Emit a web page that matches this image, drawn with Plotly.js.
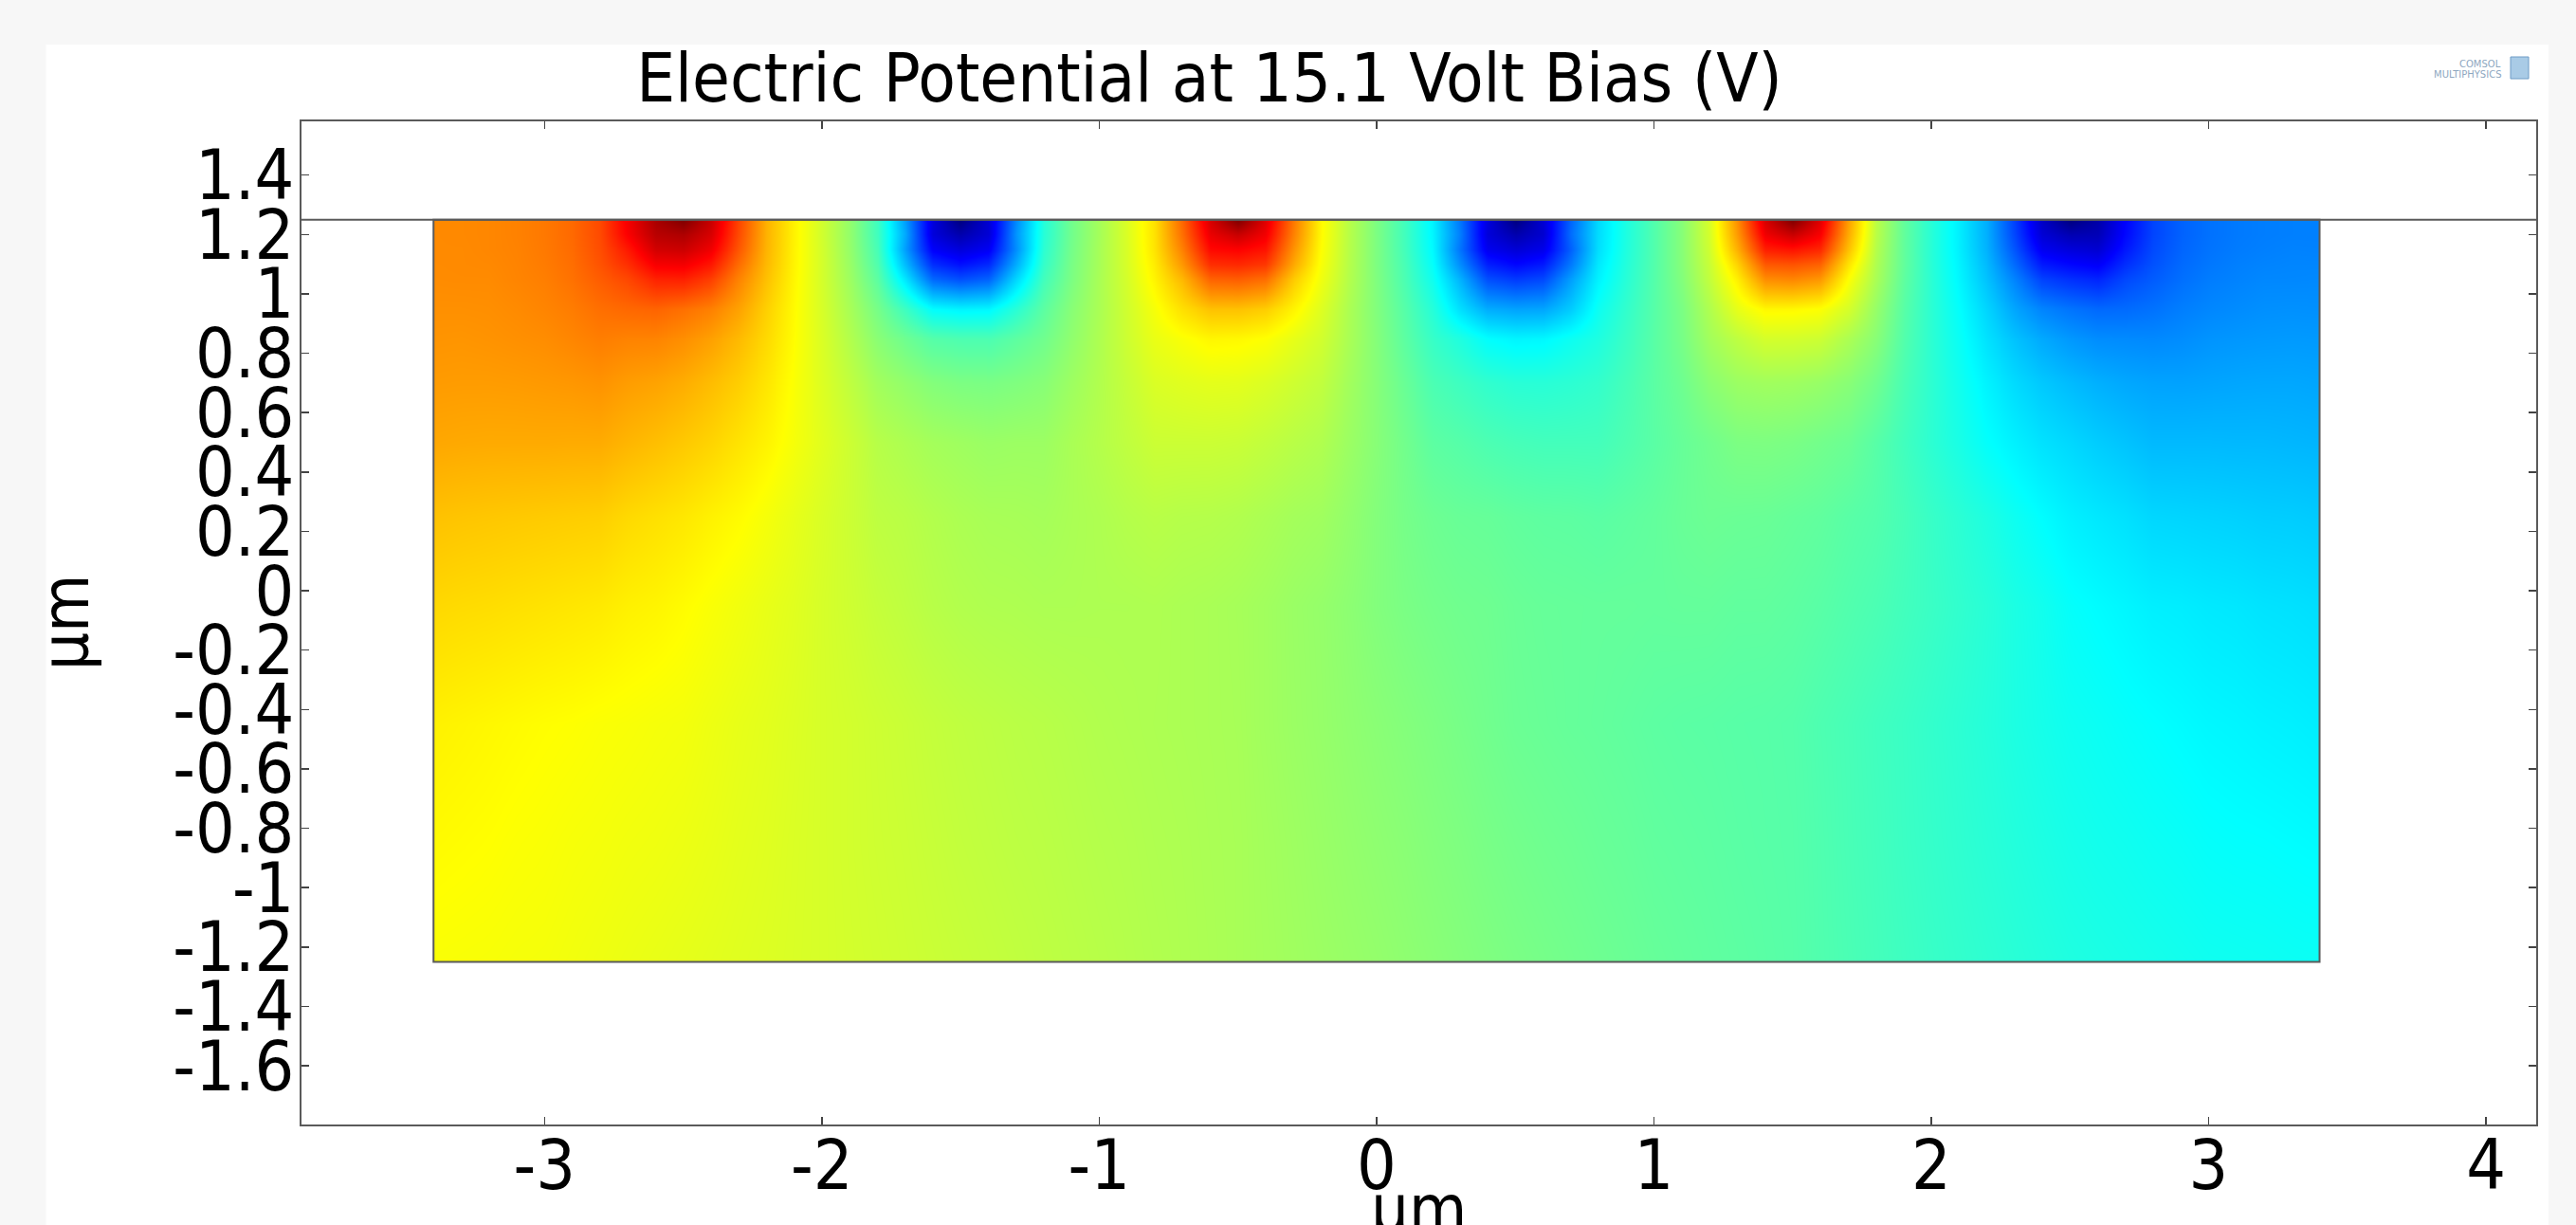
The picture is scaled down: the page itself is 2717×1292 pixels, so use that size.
<!DOCTYPE html>
<html>
<head>
<meta charset="utf-8">
<script src="https://cdn.plot.ly/plotly-3.0.1.min.js"></script>
<style>
  html, body { margin: 0; padding: 0; background: #f7f7f7; }
  #chart { width: 2717px; height: 1292px; }
</style>
</head>
<body>
<div id="chart"></div>
<script>
// ---------------- data ----------------
// x positions of the sampled columns (µm)
const xGrid = [
  -3.4,-3.3,-3.2,-3.1,-3.0,-2.9,-2.8,-2.7,-2.6,-2.5,
  -2.4,-2.3,-2.2,-2.1,-2.0,-1.9,-1.8,-1.7,-1.6,-1.5,
  -1.4,-1.3,-1.2,-1.1,-1.0,-0.9,-0.8,-0.7,-0.6,-0.5,
  -0.4,-0.3,-0.2,-0.1,0,0.1,0.2,0.3,0.4,0.5,
  0.6,0.7,0.8,0.9,1.0,1.1,1.2,1.3,1.4,1.5,
  1.6,1.7,1.8,1.9,2.0,2.1,2.2,2.3,2.4,2.5,
  2.6,2.7,2.8,2.9,3.0,3.1,3.2,3.3,3.4
];
// y positions of the sampled rows (µm), top to bottom
const yRows = [1.25, 1.2, 1.15, 1.1, 1.05, 0.95, 0.85, 0.7, 0.5, 0.25, -0.05, -0.45, -0.85, -1.25];

// estimated potential, in % of the colour range (0 = darkest blue, 100 = darkest red), rows top to bottom
const potentialRows = [
  [74.0,74.1,74.3,74.8,75.7,77.2,80.3,88.4,95.9,100, 92.9,80.9,70.0,63.6,58.0,52.1,43.6,28.0,9.3,0, 8.4,26.0,41.1,48.6,53.8,59.0,65.4,77.3,91.5,100, 90.6,75.5,62.9,55.5,49.7,43.9,36.6,24.2,9.4,0, 8.4,22.4,34.0,40.5,45.6,50.7,58.5,73.7,91.5,100, 90.6,71.8,55.9,47.3,41.4,35.9,29.5,18.8,7.0,0, 4.0,12.6,19.1,22.1,23.6,24.4,24.8,25.0,25.0],
  [74.0,74.1,74.3,74.8,75.7,77.2,80.2,87.8,94.4,95.5, 91.4,80.3,69.9,63.6,58.0,52.1,43.7,29.1,9.0,4.5, 8.5,27.1,41.2,48.6,53.8,59.0,65.3,76.5,89.6,93.0, 88.7,74.7,62.8,55.5,49.7,43.9,36.8,25.0,9.0,4.5, 8.0,23.2,34.2,40.5,45.6,50.7,58.3,72.6,89.0,93.0, 88.1,70.7,55.7,47.3,41.4,35.9,29.6,19.4,8.4,5.0, 5.4,13.2,19.2,22.1,23.6,24.4,24.8,25.0,25.0],
  [74.0,74.0,74.3,74.7,75.6,77.0,79.9,85.1,91.9,92.5, 88.9,79.1,69.7,63.5,58.2,52.3,44.4,28.0,12.0,9.0, 11.5,26.5,41.8,48.9,54.0,58.8,65.1,74.8,86.8,87.5, 85.6,73.0,62.4,55.4,49.8,44.1,37.2,24.0,11.0,8.5, 10.5,22.0,34.5,40.7,45.6,50.7,57.8,70.4,84.6,85.8, 83.7,68.6,55.2,47.2,41.4,36.0,29.9,20.8,11.1,9.0, 8.1,14.7,19.7,22.4,23.8,24.6,25.0,25.3,25.2],
  [73.9,74.0,74.1,74.6,75.4,76.7,79.3,82.9,88.2,88.5, 85.3,76.9,69.2,63.4,58.3,52.7,45.3,31.0,17.0,14.0, 16.5,29.5,42.7,49.3,54.0,58.7,64.3,72.5,83.0,83.5, 82.0,70.8,61.8,55.3,49.8,44.6,38.0,26.5,15.5,13.0, 15.0,24.5,35.5,41.1,45.7,50.6,57.1,66.9,78.8,79.3, 77.8,65.1,54.6,47.2,41.5,36.4,30.7,23.0,14.9,13.0, 11.9,17.0,20.5,22.9,24.2,25.0,25.4,25.6,25.6],
  [73.8,73.9,73.9,74.5,75.1,76.4,78.4,80.5,84.3,84.5, 81.5,74.7,68.5,63.2,58.3,53.1,46.5,35.0,22.5,20.0, 22.0,33.5,44.0,49.6,54.2,58.4,63.6,69.5,78.0,78.5, 76.8,67.6,61.0,55.1,50.0,44.9,39.0,30.0,20.0,18.0, 19.5,28.0,36.4,41.5,45.8,50.3,56.5,64.2,73.8,74.5, 72.8,62.4,54.1,46.9,41.7,36.7,31.5,25.4,18.8,17.0, 15.9,19.5,21.5,23.4,24.7,25.3,25.8,25.8,25.9],
  [73.4,73.4,73.5,73.9,74.5,75.3,76.6,77.3,77.7,76.5, 74.9,71.6,67.0,62.8,58.6,54.1,49.1,43.5,37.5,36.5, 36.8,41.5,46.6,50.8,54.3,57.9,61.7,65.5,68.5,68.5, 67.3,63.5,59.2,54.4,50.2,45.9,41.2,34.5,29.5,28.5, 28.8,32.5,38.7,42.5,46.0,49.5,54.7,60.2,63.2,63.1, 62.3,58.4,52.2,46.2,41.8,37.6,33.4,28.8,25.5,23.9, 22.8,23.0,23.7,24.9,25.7,26.2,26.6,26.7,26.6],
  [73.0,72.9,73.1,73.4,73.7,74.4,75.2,74.7,74.6,73.5, 71.8,69.3,66.1,62.6,58.9,55.1,51.0,48.3,45.8,45.0, 44.9,46.6,48.5,51.6,54.6,57.6,60.5,62.0,63.4,63.2, 62.4,60.2,58.0,54.2,50.5,46.6,42.9,40.5,37.5,36.5, 36.8,38.6,40.4,43.3,46.2,49.2,53.4,56.2,58.4,58.3, 57.6,54.4,50.9,45.7,41.9,38.3,34.7,31.6,29.1,27.4, 26.3,26.1,25.9,26.3,27.0,27.3,27.5,27.6,27.5],
  [72.3,72.2,72.2,72.3,72.5,72.7,73.1,72.1,71.5,70.5, 69.0,67.3,64.9,62.1,59.2,56.4,53.4,51.9,50.4,49.7, 49.5,50.0,50.8,52.9,54.9,56.9,58.9,59.5,59.9,59.8, 59.0,57.7,56.4,53.5,50.7,47.8,44.9,43.6,42.3,41.5, 41.4,41.8,42.5,44.4,46.4,48.3,51.1,52.8,53.3,53.1, 52.4,50.9,48.5,44.8,42.0,39.1,36.4,34.0,32.2,30.9, 29.8,29.0,28.5,28.4,28.6,28.8,28.9,28.9,28.7],
  [71.1,70.9,70.8,70.8,70.8,70.7,70.7,69.7,68.8,67.8, 66.7,65.2,63.6,61.6,59.6,57.6,55.4,54.5,53.6,53.1, 52.6,52.8,52.8,54.1,55.2,56.3,57.4,57.4,57.4,57.2, 56.5,55.6,54.8,52.8,50.8,48.7,46.6,45.9,45.0,44.4, 44.1,44.1,44.1,45.2,46.3,47.5,48.6,49.7,49.8,49.5, 48.8,48.0,46.1,43.9,41.9,39.9,37.8,36.2,34.7,33.7, 32.6,31.7,30.7,30.7,30.7,30.6,30.6,30.4,30.2],
  [68.5,68.2,68.0,67.8,67.6,67.4,67.2,66.2,65.5,64.8, 63.8,62.9,61.6,60.2,58.8,57.5,56.1,55.7,55.0,54.4, 54.0,53.9,53.7,54.2,54.6,55.2,55.6,55.3,55.2,54.9, 54.3,53.6,53.2,51.9,50.4,49.1,48.2,47.7,47.5,47.0, 46.7,46.6,46.3,46.7,47.1,47.7,48.1,47.9,47.8,47.4, 47.0,46.2,45.6,44.4,43.0,41.7,40.4,38.8,37.4,36.1, 35.3,34.6,33.6,33.4,33.2,33.0,32.7,32.6,32.3],
  [66.3,66.0,65.8,65.5,65.2,64.9,64.6,63.9,63.5,62.8, 62.0,61.2,60.3,59.5,58.5,57.7,56.8,56.2,55.5,55.0, 54.7,54.6,54.4,54.4,54.5,54.5,54.6,54.3,54.1,53.8, 53.3,52.6,52.1,51.3,50.3,49.5,48.9,48.5,48.3,47.8, 47.5,47.4,47.3,47.3,47.2,47.3,47.3,47.0,47.0,46.7, 46.2,45.5,44.9,44.0,43.2,42.3,41.4,40.2,39.2,37.9, 37.3,36.7,36.0,35.8,35.4,35.2,34.8,34.6,34.3],
  [63.8,63.5,63.2,62.9,62.6,62.4,62.1,61.9,61.6,61.4, 60.8,60.2,59.7,59.1,58.5,58.1,57.6,57.2,56.7,56.3, 56.0,55.7,55.5,55.2,54.9,54.7,54.5,54.3,54.1,53.9, 53.3,52.7,52.2,51.6,51.0,50.4,49.8,49.2,48.6,48.0, 47.7,47.4,47.2,46.9,46.6,46.4,46.3,46.1,46.0,45.8, 45.1,44.5,43.8,43.2,42.5,41.8,41.1,40.3,39.6,38.9, 38.5,38.0,37.6,37.2,36.8,36.6,36.3,36.1,35.8],
  [62.9,62.7,62.5,62.2,62.0,61.7,61.5,61.2,61.0,60.7, 60.3,59.8,59.4,58.9,58.5,58.1,57.7,57.4,57.0,56.6, 56.3,56.0,55.8,55.5,55.2,55.0,54.7,54.5,54.2,54.0, 53.5,53.0,52.5,52.0,51.5,51.0,50.4,49.9,49.3,48.8, 48.4,48.1,47.7,47.4,47.0,46.8,46.6,46.3,46.1,45.9, 45.3,44.6,44.0,43.3,42.7,42.1,41.5,40.9,40.3,39.7, 39.3,39.0,38.6,38.3,37.9,37.7,37.6,37.4,37.2],
  [62.0,61.9,61.8,61.6,61.5,61.2,60.9,60.6,60.3,60.0, 59.7,59.4,59.1,58.8,58.5,58.2,57.9,57.6,57.3,57.0, 56.7,56.4,56.1,55.8,55.5,55.2,54.9,54.6,54.3,54.0, 53.6,53.2,52.8,52.4,52.0,51.5,51.0,50.5,50.0,49.5, 49.1,48.7,48.3,47.9,47.5,47.2,46.9,46.6,46.3,46.0, 45.4,44.8,44.2,43.6,43.0,42.5,42.0,41.5,41.0,40.5, 40.2,39.9,39.6,39.3,39.0,38.9,38.8,38.6,38.5]
];

// domain of the semiconductor block (µm)
const blockX = [-3.4, 3.4];
const blockY = [-1.25, 1.25];

// tick labels
const xTickVals = [-3, -2, -1, 0, 1, 2, 3, 4];
const xTickText = ['-3', '-2', '-1', '0', '1', '2', '3', '4'];
const yTickVals = [-1.6, -1.4, -1.2, -1, -0.8, -0.6, -0.4, -0.2, 0, 0.2, 0.4, 0.6, 0.8, 1, 1.2, 1.4];
const yTickText = ['-1.6', '-1.4', '-1.2', '-1', '-0.8', '-0.6', '-0.4', '-0.2', '0', '0.2', '0.4', '0.6', '0.8', '1', '1.2', '1.4'];

const titleText = 'Electric Potential at 15.1 Volt Bias (V)';
const axisUnit = 'µm';

// ---------------- drawing ----------------
const FONT = '"DejaVu Sans Condensed", "DejaVu Sans", sans-serif';
const jet = [
  [0, '#00007F'], [0.125, '#0000FF'], [0.375, '#00FFFF'],
  [0.625, '#FFFF00'], [0.875, '#FF0000'], [1, '#7F0000']
];

const yAsc = yRows.slice().reverse();
const zAsc = potentialRows.slice().reverse();

const trace = {
  type: 'heatmap',
  x: xGrid,
  y: yAsc,
  z: zAsc,
  zmin: 0,
  zmax: 100,
  zsmooth: 'best',
  colorscale: jet,
  showscale: false,
  hoverinfo: 'skip'
};

// plot-area geometry in pixels (for paper-referenced decorations)
const L = 317.5, R = 2675, T = 128, B = 1186;
const px = v => (v - L) / (R - L);
const py = v => (B - v) / (B - T);

const edge = '#5a5a5a';
const shapes = [
  // white drawing panel
  { type: 'rect', xref: 'paper', yref: 'paper', layer: 'below',
    x0: px(48), x1: px(2688), y0: py(1300), y1: py(47),
    fillcolor: '#ffffff', line: { width: 0 } },
  // masks for the half-cell margins of the heatmap bricks
  { type: 'rect', xref: 'x', yref: 'y', x0: -3.6, x1: 3.6, y0: blockY[1], y1: 1.35, fillcolor: '#ffffff', line: { width: 0 } },
  { type: 'rect', xref: 'x', yref: 'y', x0: -3.6, x1: 3.6, y0: -1.6, y1: blockY[0], fillcolor: '#ffffff', line: { width: 0 } },
  { type: 'rect', xref: 'x', yref: 'y', x0: -3.6, x1: blockX[0], y0: -1.6, y1: 1.35, fillcolor: '#ffffff', line: { width: 0 } },
  { type: 'rect', xref: 'x', yref: 'y', x0: blockX[1], x1: 3.6, y0: -1.6, y1: 1.35, fillcolor: '#ffffff', line: { width: 0 } },
  // block outline
  { type: 'rect', xref: 'x', yref: 'y', x0: blockX[0], x1: blockX[1], y0: blockY[0], y1: blockY[1],
    line: { color: edge, width: 2 }, fillcolor: 'rgba(0,0,0,0)' },
  // surface line spanning the whole view
  { type: 'line', xref: 'paper', yref: 'y', x0: 0, x1: 1, y0: blockY[1], y1: blockY[1],
    line: { color: edge, width: 2 } },
  // logo cube
  { type: 'rect', xref: 'paper', yref: 'paper', x0: px(2648), x1: px(2667), y0: py(83), y1: py(60),
    fillcolor: '#a9cbe6', line: { color: '#6f9cc6', width: 1 } }
];

const annotations = [
  { text: axisUnit, xref: 'paper', yref: 'paper', x: 0.5, y: py(1232), xanchor: 'center', yanchor: 'top',
    showarrow: false, font: { family: FONT, size: 70, color: '#000' } },
  { text: axisUnit, xref: 'paper', yref: 'paper', x: px(68.5), y: 0.5, xanchor: 'center', yanchor: 'middle',
    textangle: -90, showarrow: false, font: { family: FONT, size: 70, color: '#000' } },
  { text: 'COMSOL', xref: 'paper', yref: 'paper', x: px(2640), y: py(68), xanchor: 'right', yanchor: 'middle',
    showarrow: false, font: { family: 'DejaVu Sans', size: 10, color: '#8ea7bf' } },
  { text: 'MULTIPHYSICS', xref: 'paper', yref: 'paper', x: px(2640), y: py(79), xanchor: 'right', yanchor: 'middle',
    showarrow: false, font: { family: 'DejaVu Sans', size: 10, color: '#8ea7bf' } }
];

const axisCommon = {
  showgrid: false, zeroline: false, showline: true, linecolor: edge, linewidth: 2,
  mirror: 'ticks', ticks: 'inside', ticklen: 8, tickwidth: 1.5, tickcolor: '#444',
  tickmode: 'array', tickfont: { family: FONT, size: 73, color: '#000' }, automargin: false
};

const layout = {
  width: 2717, height: 1292,
  paper_bgcolor: '#f7f7f7', plot_bgcolor: '#ffffff',
  margin: { l: L, r: 2717 - R, t: T, b: 1292 - B, pad: 0 },
  title: { text: titleText, font: { family: FONT, size: 72, color: '#000' },
           xref: 'container', yref: 'container', x: 1275.5 / 2717, xanchor: 'center',
           y: 1 - 81.8 / 1292, yanchor: 'middle' },
  xaxis: Object.assign({}, axisCommon, { range: [-3.876, 4.181], tickvals: xTickVals, ticktext: xTickText,
                                         ticklabelstandoff: -22 }),
  yaxis: Object.assign({}, axisCommon, { range: [-1.798, 1.581], tickvals: yTickVals, ticktext: yTickText,
                                         ticklabelstandoff: -9 }),
  shapes: shapes,
  annotations: annotations,
  showlegend: false
};

Plotly.newPlot('chart', [trace], layout, { staticPlot: true, displayModeBar: false });
</script>
</body>
</html>
